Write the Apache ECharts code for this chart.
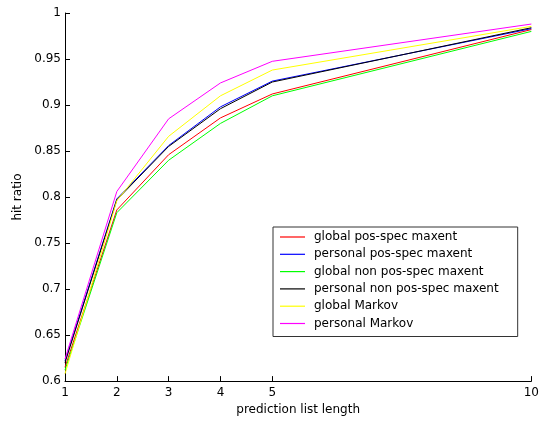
<!DOCTYPE html>
<html>
<head>
<meta charset="utf-8">
<script src="https://cdn.jsdelivr.net/npm/echarts@6/dist/echarts.min.js"></script>
<style>
html,body{margin:0;padding:0;background:#fff;}
#c{width:542px;height:421px;}
</style>
</head>
<body>
<div id="c"></div>
<script>
const xValues = [1, 2, 3, 4, 5, 10];
const xTicks = [1, 2, 3, 4, 5, 10];
const seriesNames = ['global pos-spec maxent', 'personal pos-spec maxent', 'global non pos-spec maxent', 'personal non pos-spec maxent', 'global Markov', 'personal Markov'];
const globalPosSpec = [0.615, 0.786, 0.846, 0.886, 0.912, 0.982];
const personalPosSpec = [0.622, 0.798, 0.856, 0.898, 0.926, 0.983];
const globalNonPosSpec = [0.612, 0.783, 0.840, 0.880, 0.910, 0.980];
const personalNonPosSpec = [0.620, 0.797, 0.855, 0.896, 0.925, 0.984];
const globalMarkov = [0.608, 0.796, 0.866, 0.910, 0.938, 0.9855];
const personalMarkov = [0.624, 0.806, 0.885, 0.924, 0.9475, 0.988];
const seriesValues = [globalPosSpec, personalPosSpec, globalNonPosSpec, personalNonPosSpec, globalMarkov, personalMarkov];
const colors = ['#ff0000', '#0000ff', '#00ff00', '#000000', '#ffff00', '#ff00ff'];

const font = 'DejaVu Sans';
const chart = echarts.init(document.getElementById('c'), null, {renderer: 'canvas'});
chart.setOption({
  animation: false,
  backgroundColor: '#fff',
  grid: {left: 65, right: 5, top: 13, bottom: 38},
  legend: {
    orient: 'vertical',
    left: 273,
    top: 227,
    icon: 'rect',
    itemWidth: 25,
    itemHeight: 1.2,
    itemGap: 3.3,
    padding: [3, 19, 6, 7],
    borderColor: '#333',
    borderWidth: 1,
    backgroundColor: '#fff',
    data: seriesNames,
    textStyle: {fontFamily: font, fontSize: 12, lineHeight: 14, color: '#000', padding: [0, 0, 0, 4]}
  },
  xAxis: {
    type: 'value',
    min: 1,
    max: 10,
    interval: 1,
    name: 'prediction list length',
    nameLocation: 'middle',
    nameGap: 22,
    nameTextStyle: {fontFamily: font, fontSize: 12, color: '#000'},
    axisLine: {lineStyle: {color: '#000', width: 1}},
    axisTick: {inside: true, length: 5, customValues: xTicks, lineStyle: {color: '#000'}},
    axisLabel: {customValues: xTicks, fontFamily: font, fontSize: 12, color: '#000', margin: 6},
    splitLine: {show: false}
  },
  yAxis: {
    type: 'value',
    min: 0.6,
    max: 1,
    interval: 0.05,
    name: 'hit ratio',
    nameLocation: 'middle',
    nameGap: 40,
    nameTextStyle: {fontFamily: font, fontSize: 12, color: '#000'},
    axisLine: {show: true, lineStyle: {color: '#000', width: 1}},
    axisTick: {show: true, inside: true, length: 5, lineStyle: {color: '#000'}},
    axisLabel: {fontFamily: font, fontSize: 12, color: '#000', margin: 4,
      formatter: v => String(+v.toFixed(2))},
    splitLine: {show: false}
  },
  series: seriesNames.map((n, i) => ({
    name: n,
    type: 'line',
    symbol: 'none',
    color: colors[i],
    lineStyle: {width: 1, color: colors[i]},
    data: xValues.map((x, j) => [x, seriesValues[i][j]])
  }))
});
</script>
</body>
</html>
